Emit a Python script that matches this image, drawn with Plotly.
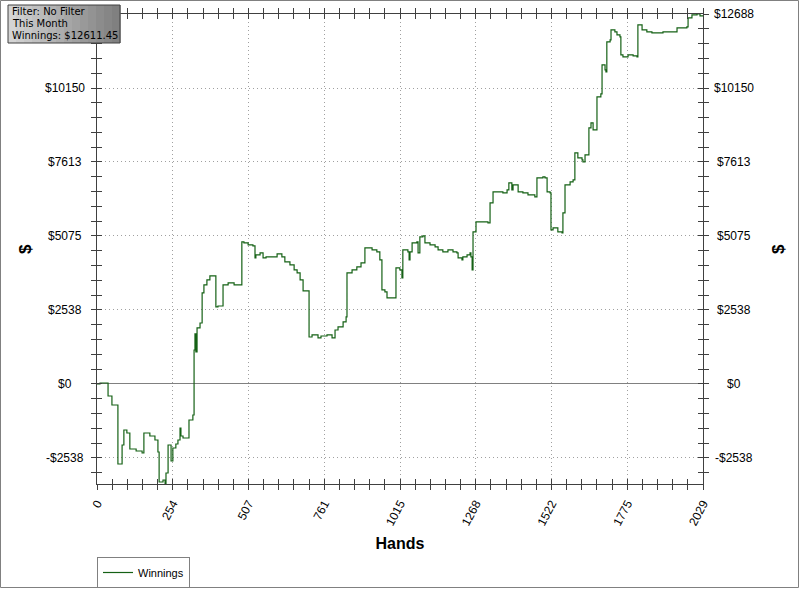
import plotly.graph_objects as go

# ---- data ----
hands = [0, 10, 37, 50, 70, 84, 90, 100, 110, 131,
         151, 157, 177, 194, 204, 208, 221, 228, 231, 238,
         248, 254, 264, 271, 278, 281, 288, 308, 321, 325,
         328, 331, 335, 345, 352, 358, 368, 378, 398, 405,
         422, 439, 459, 485, 492, 506, 522, 529, 532, 546,
         556, 566, 603, 619, 629, 646, 660, 670, 680, 690,
         710, 720, 740, 750, 770, 787, 797, 807, 824, 834,
         837, 854, 870, 884, 897, 921, 937, 947, 954, 964,
         971, 1001, 1014, 1021, 1024, 1041, 1045, 1048, 1055, 1071,
         1075, 1081, 1091, 1098, 1115, 1132, 1142, 1158, 1175, 1192,
         1205, 1209, 1222, 1225, 1239, 1249, 1252, 1256, 1259, 1269,
         1309, 1316, 1326, 1359, 1373, 1379, 1389, 1393, 1410, 1426,
         1443, 1466, 1473, 1493, 1500, 1507, 1517, 1520, 1527, 1543,
         1557, 1560, 1567, 1584, 1594, 1600, 1610, 1624, 1627, 1634,
         1647, 1654, 1661, 1674, 1687, 1691, 1701, 1704, 1707, 1718,
         1721, 1734, 1741, 1751, 1754, 1761, 1778, 1795, 1808, 1811,
         1825, 1841, 1858, 1895, 1942, 1975, 1979, 1992, 2009, 2019,
         2029]

winnings = [0, 34, -412, -720, -2744, -2092, -1578, -1681, -2230, -2298,
            -2367, -1681, -1784, -1921, -2332, -3361, -3293, -3420, -3053, -2092,
            -2641, -2195, -2058, -1921, -1509, -1784, -1852, -1235, -1063, 1166,
            1715, 1098, 1921, 2092, 3121, 3396, 3567, 3704, 2641, 2675,
            3396, 3464, 3396, 4871, 4836, 4768, 4733, 4322, 4425, 4493,
            4322, 4356, 4459, 4356, 4185, 4082, 3910, 3807, 3567, 3190,
            1612, 1681, 1578, 1646, 1681, 1578, 1852, 1955, 2127, 2298,
            3807, 3910, 4013, 4150, 4665, 4596, 4528, 4253, 3224, 3156,
            2950, 3979, 3910, 3636, 4596, 4528, 4253, 4528, 4836, 4871,
            4493, 5042, 5076, 4836, 4768, 4699, 4596, 4528, 4596, 4528,
            4493, 4322, 4253, 4356, 4425, 4493, 4356, 3910, 5214, 5557,
            5522, 6208, 6586, 6551, 6654, 6894, 6654, 6826, 6586, 6551,
            6483, 6414, 7066, 7100, 7066, 6586, 6551, 5282, 5351, 5214,
            5179, 5865, 6826, 6929, 6997, 7923, 7752, 7683, 7615, 7855,
            8781, 8952, 8712, 9844, 9947, 10942, 10770, 10702, 11731, 11799,
            12142, 12074, 11971, 11902, 11285, 11216, 11285, 11250, 11216, 12314,
            12142, 12074, 12039, 12074, 12211, 12245, 12554, 12657, 12688, 12622,
            12611]

x_tick_labels = ["0", "254", "507", "761", "1015", "1268", "1522", "1775", "2029"]
y_tick_labels = ["-$2538", "$0", "$2538", "$5075", "$7613", "$10150", "$12688"]

info_lines = ["Filter: No Filter", "This Month", "Winnings: $12611.45"]

# ---- layout geometry ----
W, H = 800, 589
ML, MR, MT, MB = 97, 97, 14, 105
PW, PH = W - ML - MR, H - MT - MB


def px_x(p):
    return (p - ML) / PW


def px_y(p):
    return (H - MB - p) / PH


x_max = 2029
y_top = 12688
y_bot = -3430
y_step = y_top / 5
x_step = x_max / 8

x_major = [i * x_step for i in range(9)]
x_minor = [i * x_step / 5 for i in range(41)]
y_major = [i * y_step for i in range(-1, 6)]
y_minor = [i * y_step / 5 for i in range(-6, 26)]

FONT = "Liberation Sans, Arial, sans-serif"
LINE_COL = "#156115"
AX_COL = "#404040"
GRID_COL = "#a0a0a0"
GRID_DASH = "1px,3px"

fig = go.Figure()
fig.add_trace(go.Scatter(
    x=hands, y=winnings, mode="lines", line_shape="hv",
    line=dict(color=LINE_COL, width=1.2), name="Winnings"))
# invisible twin trace to activate the overlay axes (crossing ticks)
fig.add_trace(go.Scatter(
    x=hands, y=winnings, mode="lines", xaxis="x2", yaxis="y2",
    line=dict(color=LINE_COL, width=1), opacity=0, showlegend=False,
    hoverinfo="skip"))

common_x = dict(range=[0, x_max], showline=True, linecolor=AX_COL, linewidth=1,
                zeroline=False, ticklen=5, tickcolor=AX_COL, mirror="ticks",
                tickmode="array", tickvals=x_major, automargin=False)
common_y = dict(range=[y_bot, y_top], showline=True, linecolor=AX_COL, linewidth=1,
                ticklen=5, tickcolor=AX_COL, mirror="ticks",
                tickmode="array", tickvals=y_major, automargin=False,
                showticklabels=False)

fig.update_layout(
    width=W, height=H,
    margin=dict(l=ML, r=MR, t=MT, b=MB, autoexpand=False),
    paper_bgcolor="white", plot_bgcolor="white",
    font=dict(family=FONT, size=12, color="black"),
    showlegend=True,
    legend=dict(x=0, xanchor="left", y=-73 / PH, yanchor="top",
                bordercolor="#808080", borderwidth=1, bgcolor="white",
                font=dict(size=11, family=FONT), itemwidth=30,
                tracegroupgap=0),
    xaxis=dict(**common_x, ticks="outside", ticktext=x_tick_labels,
               tickangle=-62, tickfont=dict(size=12), ticklabelstandoff=2,
               showgrid=True, gridcolor=GRID_COL, griddash=GRID_DASH, gridwidth=1,
               minor=dict(tickmode="array", tickvals=x_minor, ticks="outside",
                          ticklen=5, tickcolor=AX_COL, showgrid=False),
               title=dict(text="<b>Hands</b>", font=dict(size=16), standoff=10)),
    xaxis2=dict(**common_x, overlaying="x", anchor="y2", side="bottom",
                ticks="inside", showticklabels=False, showgrid=False,
                minor=dict(tickmode="array", tickvals=x_minor, ticks="inside",
                           ticklen=5, tickcolor=AX_COL, showgrid=False)),
    yaxis=dict(**common_y, side="left", ticks="outside",
               showgrid=True, gridcolor=GRID_COL, griddash=GRID_DASH, gridwidth=1,
               zeroline=True, zerolinecolor="#808080", zerolinewidth=1,
               minor=dict(tickmode="array", tickvals=y_minor, ticks="outside",
                          ticklen=5, tickcolor=AX_COL, showgrid=False)),
    yaxis2=dict(**common_y, overlaying="y", anchor="x2", side="right",
                ticks="inside", showgrid=False, zeroline=False,
                minor=dict(tickmode="array", tickvals=y_minor, ticks="inside",
                           ticklen=5, tickcolor=AX_COL, showgrid=False)),
)

# y tick labels, centred, on both sides
# (the top-left one is hidden behind the info box in the reference)
for v, t in zip(y_major, y_tick_labels):
    sides = [px_x(734)] if v == y_major[-1] else [px_x(65), px_x(734)]
    for xc in sides:
        fig.add_annotation(xref="paper", yref="y", x=xc, y=v, text=t,
                           showarrow=False, xanchor="center", yanchor="middle",
                           font=dict(size=12, family=FONT, color="black"))

# "$" axis titles on both sides
for xc in (px_x(25), px_x(778)):
    fig.add_annotation(xref="paper", yref="paper", x=xc, y=px_y(249),
                       text="<b>$</b>", showarrow=False, textangle=-90,
                       xanchor="center", yanchor="middle",
                       font=dict(size=17, family=FONT, color="black"))

# info box (top-left): gradient-like grey background built from stripes
bx0, bx1, by0, by1 = 8, 120, 5, 43
n_str = 14
for i in range(n_str):
    g = int(212 - (212 - 128) * i / (n_str - 1))
    fig.add_shape(type="rect", xref="paper", yref="paper",
                  x0=px_x(bx0 + (bx1 - bx0) * i / n_str),
                  x1=px_x(bx0 + (bx1 - bx0) * (i + 1) / n_str + 0.6),
                  y0=px_y(by1), y1=px_y(by0),
                  line=dict(width=0), fillcolor=f"rgb({g},{g},{g})", layer="above")
fig.add_shape(type="rect", xref="paper", yref="paper",
              x0=px_x(bx0), x1=px_x(bx1), y0=px_y(by1), y1=px_y(by0),
              line=dict(color="#404040", width=1), fillcolor="rgba(0,0,0,0)",
              layer="above")
for k, line in enumerate(info_lines):
    fig.add_annotation(xref="paper", yref="paper",
                       x=px_x(bx0 + 2), y=px_y(11 + 12.5 * k),
                       xanchor="left", yanchor="middle", text=line,
                       showarrow=False, align="left",
                       font=dict(family="DejaVu Sans, Verdana, sans-serif",
                                 size=10, color="black"))

# outer frame around the whole picture
fig.add_shape(type="rect", xref="paper", yref="paper",
              x0=px_x(0.5), x1=px_x(W - 1.5),
              y0=px_y(H - 1.5), y1=px_y(0.5),
              line=dict(color="#808080", width=1), fillcolor="rgba(0,0,0,0)",
              layer="below")

fig.write_html(
    "out.html",
    config={"displayModeBar": False},
    post_script="document.body.style.margin='0';document.body.style.overflow='hidden';",
)
